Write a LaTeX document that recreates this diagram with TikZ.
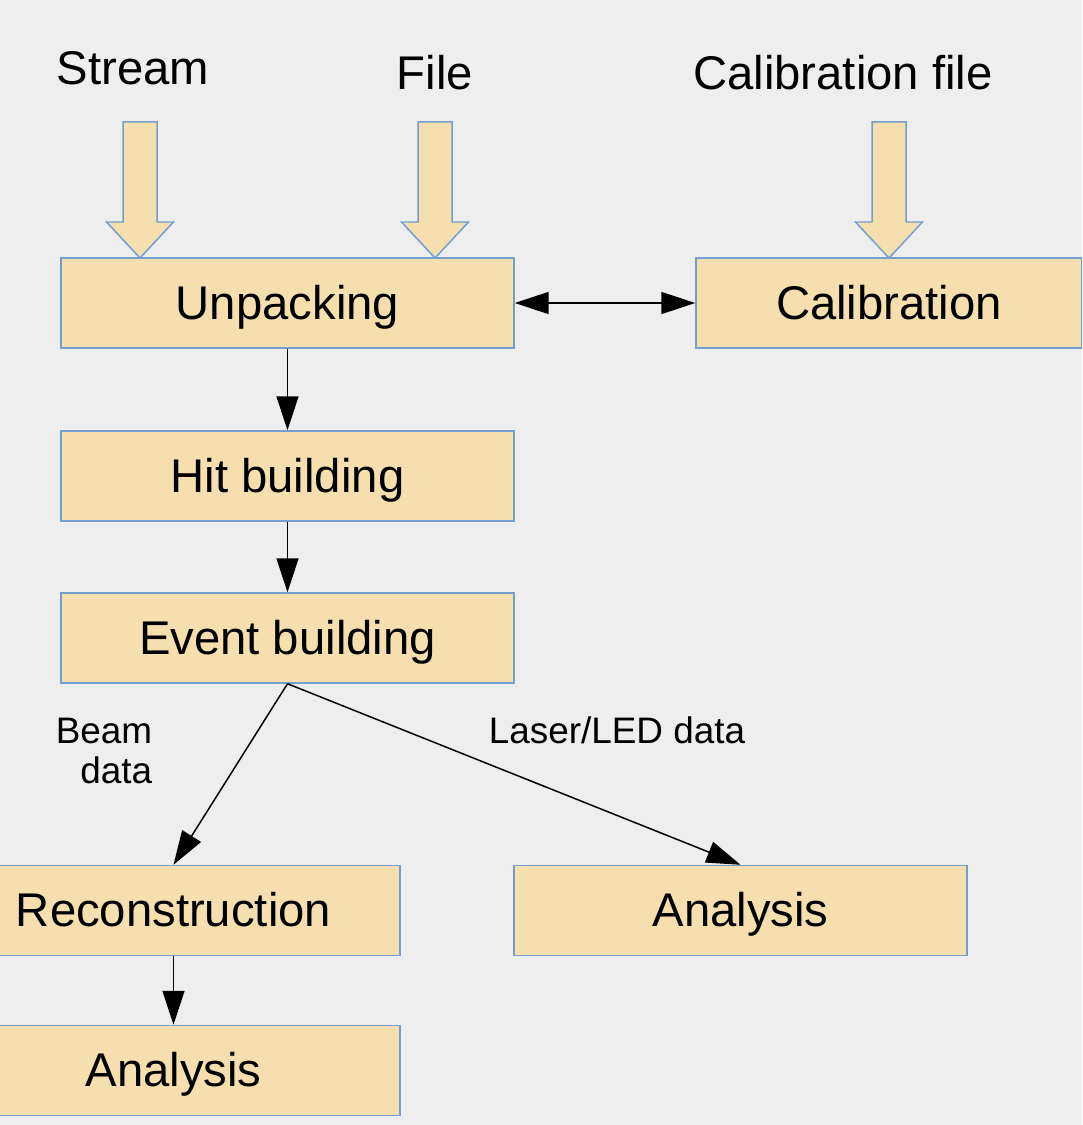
\documentclass[tikz,border=0pt]{standalone}
\usepackage{fontspec}
\setmainfont{Liberation Sans}
\usetikzlibrary{arrows.meta,calc}
\definecolor{bgcol}{HTML}{EEEEEE}
\definecolor{boxfill}{HTML}{F6DFAF}
\definecolor{boxline}{HTML}{729FCF}
% big input arrow, tip at (#1)
\def\feedarrow(#1){\draw[boxline, line width=0.03cm, fill=boxfill] ($(#1)+(-17,-136)$) -- ++(34,0) -- ++(0,100) -- ++(16.5,0) -- (#1) -- ++(-33.5,-36) -- ++(16.5,0) -- cycle;}

\begin{document}
\begin{tikzpicture}[x=0.02cm, y=-0.02cm,
	stage/.style={draw=boxline, fill=boxfill, line width=0.03cm, minimum width=9.06cm, minimum height=1.8cm, inner sep=0pt, text height=24.3pt, text depth=5.7pt, font=\fontsize{26.9}{32}\selectfont},
	title/.style={font=\fontsize{26.9}{32}\selectfont},
	note/.style={font=\fontsize{21}{23.2}\selectfont},
	flow/.style={-{Triangle[length=0.68cm, width=0.44cm]}, line width=0.03cm}]
			%%%%% START %%%%%
			\useasboundingbox (0,0) rectangle (1082,1125);
			\fill[bgcol] (0,0) rectangle (1082,1125);
			\clip (0,0) rectangle (1082,1125);
			
			\node[title] (stream) at (133, 68) {Stream};
			\node[title] (file) at (435, 73) {File};
			\node[title] (calfile) at (843, 73) {Calibration file};
			
			\node[stage] (unpack) at (287.5, 303) {Unpacking};
			\node[stage, minimum width=7.72cm] (calib) at (889, 303) {Calibration};
			\node[stage] (hit) at (287.5, 476) {Hit building};
			\node[stage] (event) at (287.5, 638) {Event building};
			\node[stage] (reco) at (173.5, 910.5) {Reconstruction};
			\node[stage] (ana) at (740.5, 910.5) {Analysis};
			\node[stage] (recoana) at (173.5, 1070.5) {Analysis};
			
			\coordinate (streamtip) at (140, 258);
			\coordinate (filetip) at (435, 258);
			\coordinate (caltip) at (889, 258);
			\feedarrow(streamtip)
			\feedarrow(filetip)
			\feedarrow(caltip)
			
			\draw[flow, {Triangle[length=0.68cm, width=0.44cm]}-{Triangle[length=0.68cm, width=0.44cm]}] (unpack) -- (calib);
			\draw[flow] (unpack) -- (hit);
			\draw[flow] (hit) -- (event);
			\draw[flow] (event.south) -- (reco.north);
			\draw[flow] (event.south) -- (ana.north);
			\draw[flow] (reco) -- (recoana);
			
			\node[note, align=right] (beam) at (104, 751) {Beam\\data};
			\node[note] (laser) at (617, 730) {Laser/LED data};
			%%%%% END %%%%%
\end{tikzpicture}
\end{document}
